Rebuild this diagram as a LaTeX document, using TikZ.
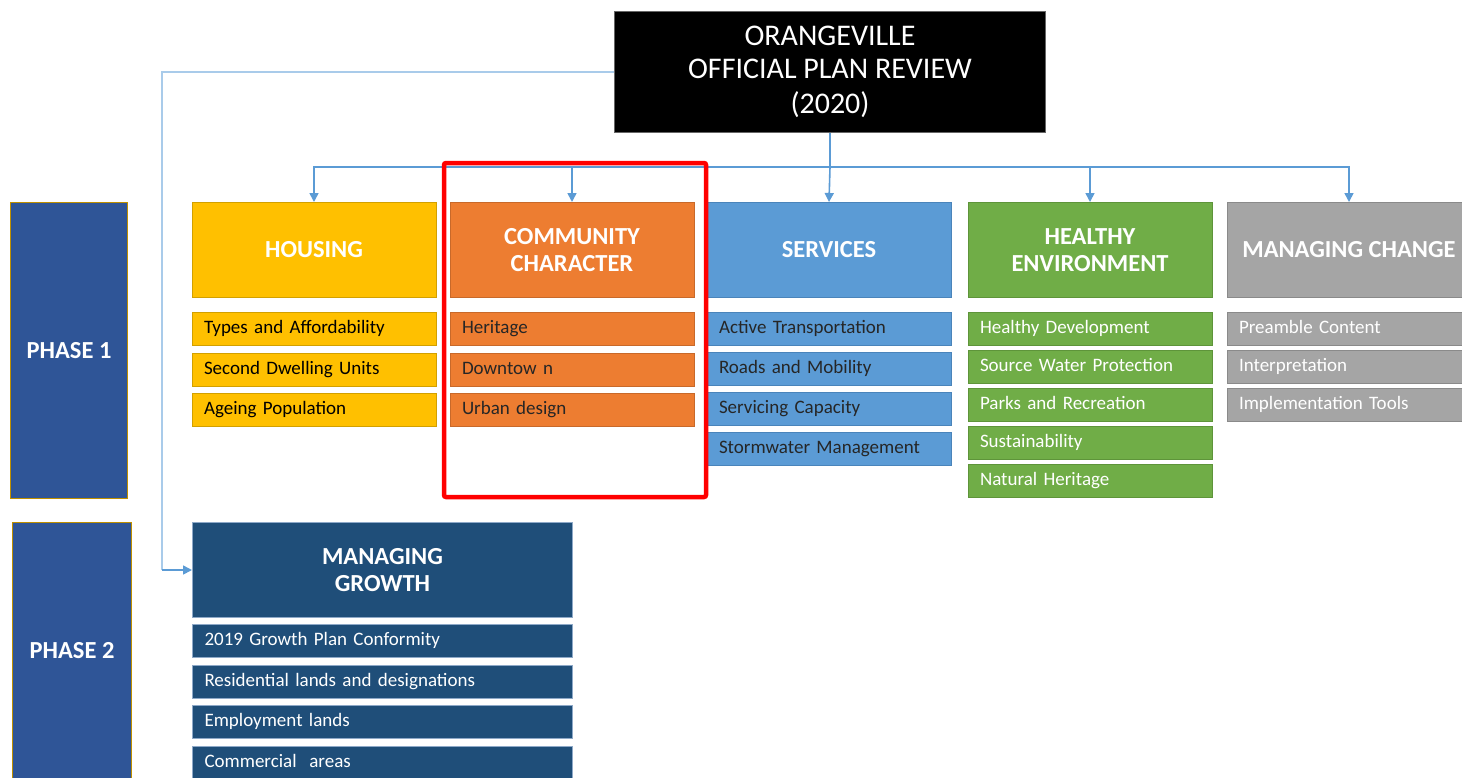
\documentclass[tikz,border=0pt]{standalone}
\usepackage{fontspec}
\setmainfont{Carlito}
\usetikzlibrary{positioning,arrows.meta}

\definecolor{housefill}{HTML}{FFC000}
\definecolor{houseline}{HTML}{D2A000}
\definecolor{commfill}{HTML}{ED7D31}
\definecolor{commline}{HTML}{C8692A}
\definecolor{servfill}{HTML}{5B9BD5}
\definecolor{servline}{HTML}{4A84BA}
\definecolor{envfill}{HTML}{70AD47}
\definecolor{envline}{HTML}{5E943A}
\definecolor{chgfill}{HTML}{A5A5A5}
\definecolor{chgline}{HTML}{8A8A8A}
\definecolor{growfill}{HTML}{1F4E79}
\definecolor{growline}{HTML}{8EA9C8}
\definecolor{phasefill}{HTML}{2F5597}
\definecolor{phaseline}{HTML}{BF9000}
\definecolor{linkblue}{HTML}{5B9BD5}
\definecolor{linklight}{HTML}{A9CBEA}

\tikzset{
  hdr/.style={minimum width=244pt,minimum height=95pt,inner sep=0pt,align=center,
    text=white,line width=1pt,font=\bfseries\fontsize{24.5}{27}\selectfont},
  item/.style={text width=220pt,inner xsep=12pt,inner ysep=0pt,minimum height=33pt,
    text height=13.5pt,text depth=4.5pt,
    align=left,line width=1pt,font=\fontsize{19}{22}\selectfont},
  phase/.style={fill=phasefill,draw=phaseline,line width=1pt,text=white,
    font=\bfseries\fontsize{24.5}{27}\selectfont},
  link/.style={linkblue,line width=1.6pt},
}

\begin{document}
\begin{tikzpicture}[x=1pt,y=-1pt,>={Triangle[length=9pt,width=9pt]}]
\useasboundingbox (0,0) rectangle (1462,777);
\clip (0,0) rectangle (1462,777);
\fill[white] (0,0) rectangle (1462,777);

% title
\node[fill=black,draw=black!60,minimum width=431pt,minimum height=121pt,align=center,
  text=white,font=\fontsize{30}{35.5}\selectfont] (title) at (830,72)
  {\raisebox{-3pt}{ORANGEVILLE}\\OFFICIAL PLAN REVIEW\\(2020)};

% phases
\node[phase,minimum width=117pt,minimum height=296pt] (phase1) at (69,350.5) {PHASE 1};
\node[phase,minimum width=119pt,minimum height=258pt] (phase2) at (72,651) {PHASE 2};

% phase 1 headers
\node[hdr,fill=housefill,draw=houseline] (housing) at (314,250) {HOUSING};
\node[hdr,fill=commfill,draw=commline,right=13pt of housing] (community) {COMMUNITY\\CHARACTER};
\node[hdr,fill=servfill,draw=servline,right=12pt of community] (services) {SERVICES};
\node[hdr,fill=envfill,draw=envline,right=16pt of services] (environment) {HEALTHY\\ENVIRONMENT};
\node[hdr,fill=chgfill,draw=chgline,right=14pt of environment] (change) {MANAGING CHANGE};

% housing topics
\node[item,fill=housefill,draw=houseline,below=14pt of housing] (house1) {Types and Affordability};
\node[item,fill=housefill,draw=houseline,below=7pt of house1] (house2) {Second Dwelling Units};
\node[item,fill=housefill,draw=houseline,below=6pt of house2] (house3) {Ageing Population};

% community topics
\node[item,fill=commfill,draw=commline,text=black!85,below=14pt of community] (comm1) {Heritage};
\node[item,fill=commfill,draw=commline,text=black!85,below=7pt of comm1] (comm2) {Downtow n};
\node[item,fill=commfill,draw=commline,text=black!85,below=6pt of comm2] (comm3) {Urban design};

% services topics
\node[item,fill=servfill,draw=servline,text=black!85,below=14pt of services] (serv1) {Active Transportation};
\node[item,fill=servfill,draw=servline,text=black!85,below=6pt of serv1] (serv2) {Roads and Mobility};
\node[item,fill=servfill,draw=servline,text=black!85,below=6pt of serv2] (serv3) {Servicing Capacity};
\node[item,fill=servfill,draw=servline,text=black!85,below=6pt of serv3] (serv4) {Stormwater Management};

% environment topics
\node[item,fill=envfill,draw=envline,text=white,below=14pt of environment] (env1) {Healthy Development};
\node[item,fill=envfill,draw=envline,text=white,below=4pt of env1] (env2) {Source Water Protection};
\node[item,fill=envfill,draw=envline,text=white,below=4pt of env2] (env3) {Parks and Recreation};
\node[item,fill=envfill,draw=envline,text=white,below=4pt of env3] (env4) {Sustainability};
\node[item,fill=envfill,draw=envline,text=white,below=4pt of env4] (env5) {Natural Heritage};

% managing change topics
\node[item,fill=chgfill,draw=chgline,text=white,below=14pt of change] (chg1) {Preamble Content};
\node[item,fill=chgfill,draw=chgline,text=white,below=4pt of chg1] (chg2) {Interpretation};
\node[item,fill=chgfill,draw=chgline,text=white,below=4pt of chg2] (chg3) {Implementation Tools};

% phase 2
\node[hdr,fill=growfill,draw=growline,minimum width=380pt] (growth) at (382.5,570) {MANAGING\\GROWTH};
\node[item,text width=356pt,fill=growfill,draw=growline,text=white,below=6pt of growth] (grow1) {2019 Growth Plan Conformity};
\node[item,text width=356pt,fill=growfill,draw=growline,text=white,below=7pt of grow1] (grow2) {Residential lands and designations};
\node[item,text width=356pt,fill=growfill,draw=growline,text=white,below=6pt of grow2] (grow3) {Employment lands};
\node[item,text width=356pt,fill=growfill,draw=growline,text=white,below=7pt of grow3] (grow4) {Commercial\ \ areas};

% connectors
\coordinate (hub) at (830,167);
\coordinate (elbow) at (162,570);
\draw[link,line width=2.4pt] (title.south) -- (hub);
\draw[link,->] (hub) -| (housing.north);
\draw[link,->] (hub) -| (community.north);
\draw[link,->] (hub) -- (services.north);
\draw[link,->] (hub) -| (environment.north);
\draw[link,->] (hub) -| (change.north);
\draw[linklight,line width=1.6pt] (title.west) -| (elbow);
\draw[link,->] (elbow) -- (growth.west);

% highlight
\draw[red,line width=4.5pt,rounded corners=2pt] (444,163) rectangle (706,497);
\end{tikzpicture}
\end{document}
